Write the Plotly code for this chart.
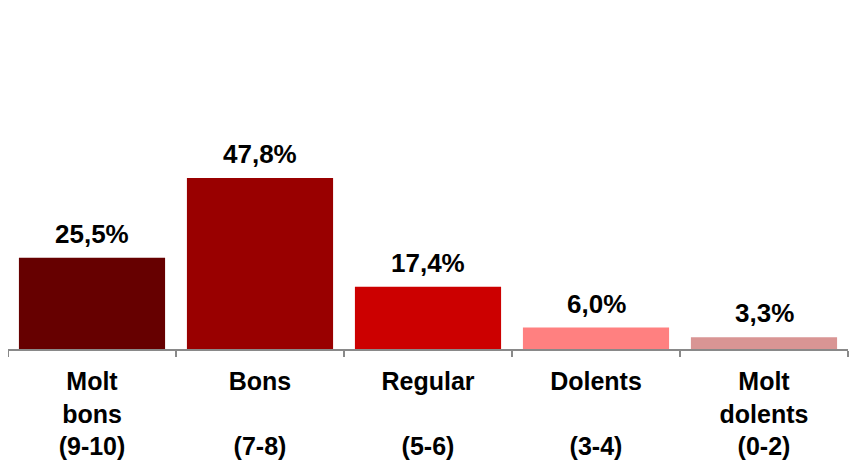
import plotly.graph_objects as go

categories = ["Molt<br>bons<br>(9-10)", "Bons<br><br>(7-8)", "Regular<br><br>(5-6)", "Dolents<br><br>(3-4)", "Molt<br>dolents<br>(0-2)"]
values = [25.5, 47.8, 17.4, 6.0, 3.3]
value_labels = ["25,5%", "47,8%", "17,4%", "6,0%", "3,3%"]
colors = ["#660000", "#990000", "#CC0000", "#FF8080", "#D99594"]

FONT = "Liberation Sans, Arial"

fig = go.Figure(go.Bar(x=categories, y=values, marker=dict(color=colors, line=dict(width=0)),
                       width=0.87, hoverinfo="skip"))

for c, v, t in zip(categories, values, value_labels):
    fig.add_annotation(x=c, y=v, text=t, showarrow=False, yanchor="bottom", yshift=7,
                       font=dict(family=FONT, size=26, color="black", weight="bold"))

fig.update_layout(
    width=865, height=460,
    margin=dict(l=0, r=25, t=12, b=119),
    paper_bgcolor="white", plot_bgcolor="white",
    showlegend=False,
    font=dict(family=FONT, size=25, color="black"),
    xaxis=dict(showline=True, linecolor="#898989", linewidth=2, ticks="outside", tickson="boundaries",
               ticklen=6, tickcolor="#898989", tickwidth=2, showgrid=False, automargin=False,
               ticklabelstandoff=9,
               tickfont=dict(size=25, color="black", weight="bold", family=FONT),
               range=[-0.5, 4.5]),
    yaxis=dict(visible=False, range=[0, 91.98], automargin=False),
)
fig.write_html("out.html")
